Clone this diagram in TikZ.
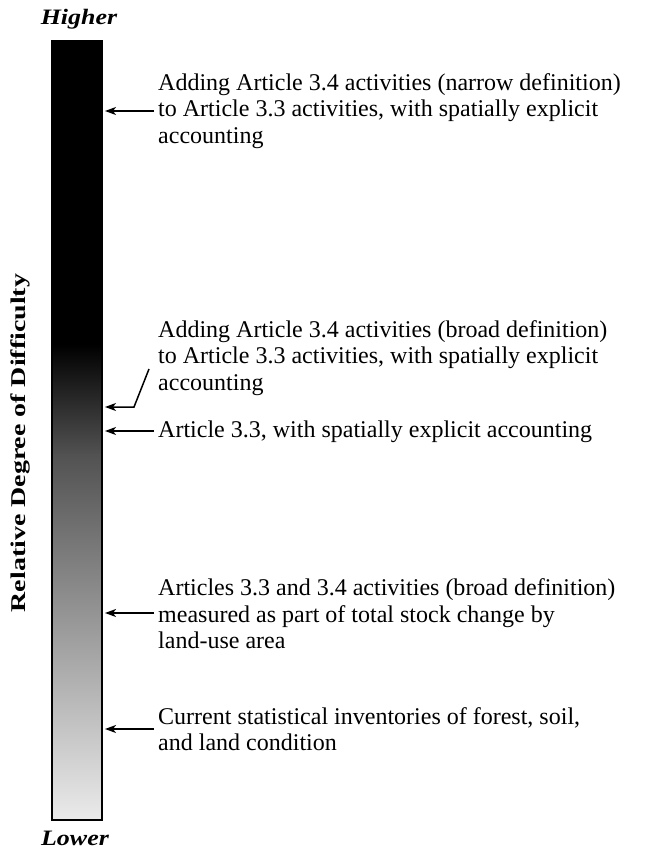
\documentclass[tikz,border=0pt]{standalone}
\usepackage{fontspec}
\setmainfont{Liberation Serif}
\usetikzlibrary{arrows.meta}
\tikzset{
  x=1pt, y=-1pt,
  note/.style={anchor=west, inner sep=0pt, align=left,
    font=\fontsize{24}{26.5}\selectfont},
  pointer/.style={-{Stealth[length=11pt,width=8pt,inset=3pt]}, line width=1.5pt},
  endlabel/.style={inner sep=0pt, font=\fontsize{22}{24}\selectfont\bfseries\itshape},
}
\begin{document}
\begin{tikzpicture}
\useasboundingbox (0,0) rectangle (655,858);
% difficulty bar: black at the top, fading to pale grey at the bottom
\fill[black] (52,41) rectangle (102,345);
\shade[top color=black, bottom color=black!68] (52,344) rectangle (102,455);
\shade[top color=black!68, bottom color=black!8] (52,454) rectangle (102,820);
\draw[line width=1.4pt] (52,41) rectangle (102,820);

\node[endlabel] (hi) at (79,19) {\scalebox{1.18}[1]{Higher}};
\node[endlabel] (lo) at (75,838) {\scalebox{1.18}[1]{Lower}};
\node[inner sep=0pt, rotate=90, font=\fontsize{21}{24}\selectfont\bfseries] (axis) at (20,443)
  {\scalebox{1.33}[1]{Relative Degree of Difficulty}};

% explanatory notes
\node[note] (n1) at (158,111) {Adding Article 3.4 activities (narrow definition)\\
  to Article 3.3 activities, with spatially explicit\\ accounting};
\node[note, anchor=north west] (n2) at (158,320) {Adding Article 3.4 activities (broad definition)\\
  to Article 3.3 activities, with spatially explicit\\ accounting};
\node[note] (n3) at (158,432) {Article 3.3, with spatially explicit accounting};
\node[note] (n4) at (158,614) {Articles 3.3 and 3.4 activities (broad definition)\\
  measured as part of total stock change by\\ land-use area};
\node[note] (n5) at (158,729) {Current statistical inventories of forest, soil,\\
  and land condition};

% pointers into the bar
\coordinate (t1) at (105,111);
\coordinate (t2) at (105,407);
\coordinate (t3) at (105,431);
\coordinate (t4) at (105,613);
\coordinate (t5) at (105,729);
\coordinate (k2) at (134,407);
\coordinate (s2) at (149,369);
\draw[pointer] ([xshift=-4pt]n1.west |- t1) -- (t1);
\draw[pointer] (s2) -- (k2) -- (t2);
\draw[pointer] ([xshift=-4pt]n3.west |- t3) -- (t3);
\draw[pointer] ([xshift=-4pt]n4.west |- t4) -- (t4);
\draw[pointer] ([xshift=-4pt]n5.west |- t5) -- (t5);
\end{tikzpicture}
\end{document}
